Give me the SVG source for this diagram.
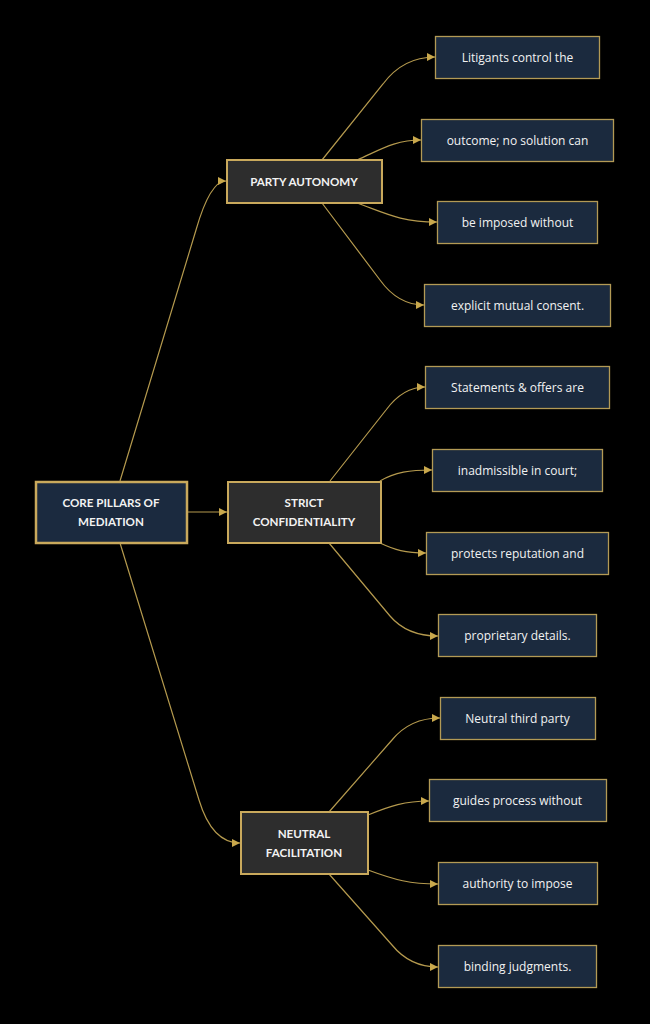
<svg xmlns="http://www.w3.org/2000/svg" width="650" height="1024" viewBox="0 0 650 1024">
<defs>
<marker id="arr" viewBox="0 0 10 10" refX="10" refY="5" markerWidth="8" markerHeight="8" markerUnits="userSpaceOnUse" orient="auto">
<path d="M0,0 L10,5 L0,10 z" fill="#c9a84c"/>
</marker>
<style>
.bg{fill:#000}
.edge{fill:none;stroke:#b59a4e;stroke-width:1.2;marker-end:url(#arr)}
.root{fill:#1b2a3f;stroke:#c9a95c;stroke-width:2.5}
.mid{fill:#2d2d2d;stroke:#c9a95c;stroke-width:2}
.leaf{fill:#1b2a3e;stroke:#b39a55;stroke-width:1.3}
.t{fill:#f2f2f2;text-anchor:middle;dominant-baseline:central}
.tb{font-family:Lato,"Open Sans","Liberation Sans",sans-serif;font-size:11.6px;font-weight:bold}
.tl{font-family:"Open Sans",Lato,"Liberation Sans",sans-serif;font-size:12px}
</style>
</defs>
<rect class="bg" x="0" y="0" width="650" height="1024"/>
<g id="connectors">
<path class="edge" d="M120,481 L196,230 Q210,181 226,181"/>
<path class="edge" d="M187,512 L227,512"/>
<path class="edge" d="M120,543 L199,800 Q212,843 240,843"/>
<path class="edge" d="M322,160 L383,84 Q403,57 435,57"/>
<path class="edge" d="M357,160 C380,150 395,140 421,140"/>
<path class="edge" d="M357,203 C385,213 400,222 437,222"/>
<path class="edge" d="M322,203 L380,280 Q398,305 424,305"/>
<path class="edge" d="M330,481 L386,410 Q403,387 425,387"/>
<path class="edge" d="M380,481 C395,472 410,470 432,470"/>
<path class="edge" d="M380,543 C395,550 405,553 426,553"/>
<path class="edge" d="M329,543 L390,616 Q407,636 438,636"/>
<path class="edge" d="M329,812 L392,740 Q410,718 440,718"/>
<path class="edge" d="M368,815 C390,806 405,801 429,801"/>
<path class="edge" d="M368,870 C395,880 410,884 438,884"/>
<path class="edge" d="M329,874 L392,945 Q410,967 438,967"/>
</g>
<g id="root">
<rect class="root" x="36" y="482" width="151" height="61"/>
<text class="t tb" x="111" y="502">CORE PILLARS OF</text>
<text class="t tb" x="111" y="521">MEDIATION</text>
</g>
<g id="party">
<rect class="mid" x="227" y="160" width="155" height="43"/>
<text class="t tb" x="304" y="181">PARTY AUTONOMY</text>
</g>
<g id="strict">
<rect class="mid" x="228" y="482" width="153" height="61"/>
<text class="t tb" x="304" y="502">STRICT</text>
<text class="t tb" x="304" y="521">CONFIDENTIALITY</text>
</g>
<g id="neutral">
<rect class="mid" x="241" y="812" width="127" height="62"/>
<text class="t tb" x="304" y="833">NEUTRAL</text>
<text class="t tb" x="304" y="852">FACILITATION</text>
</g>
<g id="leaf1"><rect class="leaf" x="435.5" y="36.5" width="164" height="42"/><text class="t tl" x="517.5" y="57">Litigants control the</text></g>
<g id="leaf2"><rect class="leaf" x="421.5" y="119.5" width="192" height="42"/><text class="t tl" x="517.5" y="140">outcome; no solution can</text></g>
<g id="leaf3"><rect class="leaf" x="437.5" y="201.5" width="160" height="42"/><text class="t tl" x="517.5" y="222">be imposed without</text></g>
<g id="leaf4"><rect class="leaf" x="424.5" y="284.5" width="186" height="42"/><text class="t tl" x="517.5" y="305">explicit mutual consent.</text></g>
<g id="leaf5"><rect class="leaf" x="425.5" y="366.5" width="184" height="42"/><text class="t tl" x="517.5" y="387">Statements &amp; offers are</text></g>
<g id="leaf6"><rect class="leaf" x="432.5" y="449.5" width="170" height="42"/><text class="t tl" x="517.5" y="470">inadmissible in court;</text></g>
<g id="leaf7"><rect class="leaf" x="426.5" y="532.5" width="182" height="42"/><text class="t tl" x="517.5" y="553">protects reputation and</text></g>
<g id="leaf8"><rect class="leaf" x="438.5" y="614.5" width="158" height="42"/><text class="t tl" x="517.5" y="635">proprietary details.</text></g>
<g id="leaf9"><rect class="leaf" x="440.5" y="697.5" width="155" height="42"/><text class="t tl" x="517.5" y="718">Neutral third party</text></g>
<g id="leaf10"><rect class="leaf" x="429.5" y="779.5" width="177" height="42"/><text class="t tl" x="517.5" y="800">guides process without</text></g>
<g id="leaf11"><rect class="leaf" x="438.5" y="862.5" width="159" height="42"/><text class="t tl" x="517.5" y="883">authority to impose</text></g>
<g id="leaf12"><rect class="leaf" x="438.5" y="945.5" width="158" height="42"/><text class="t tl" x="517.5" y="966">binding judgments.</text></g>
</svg>
